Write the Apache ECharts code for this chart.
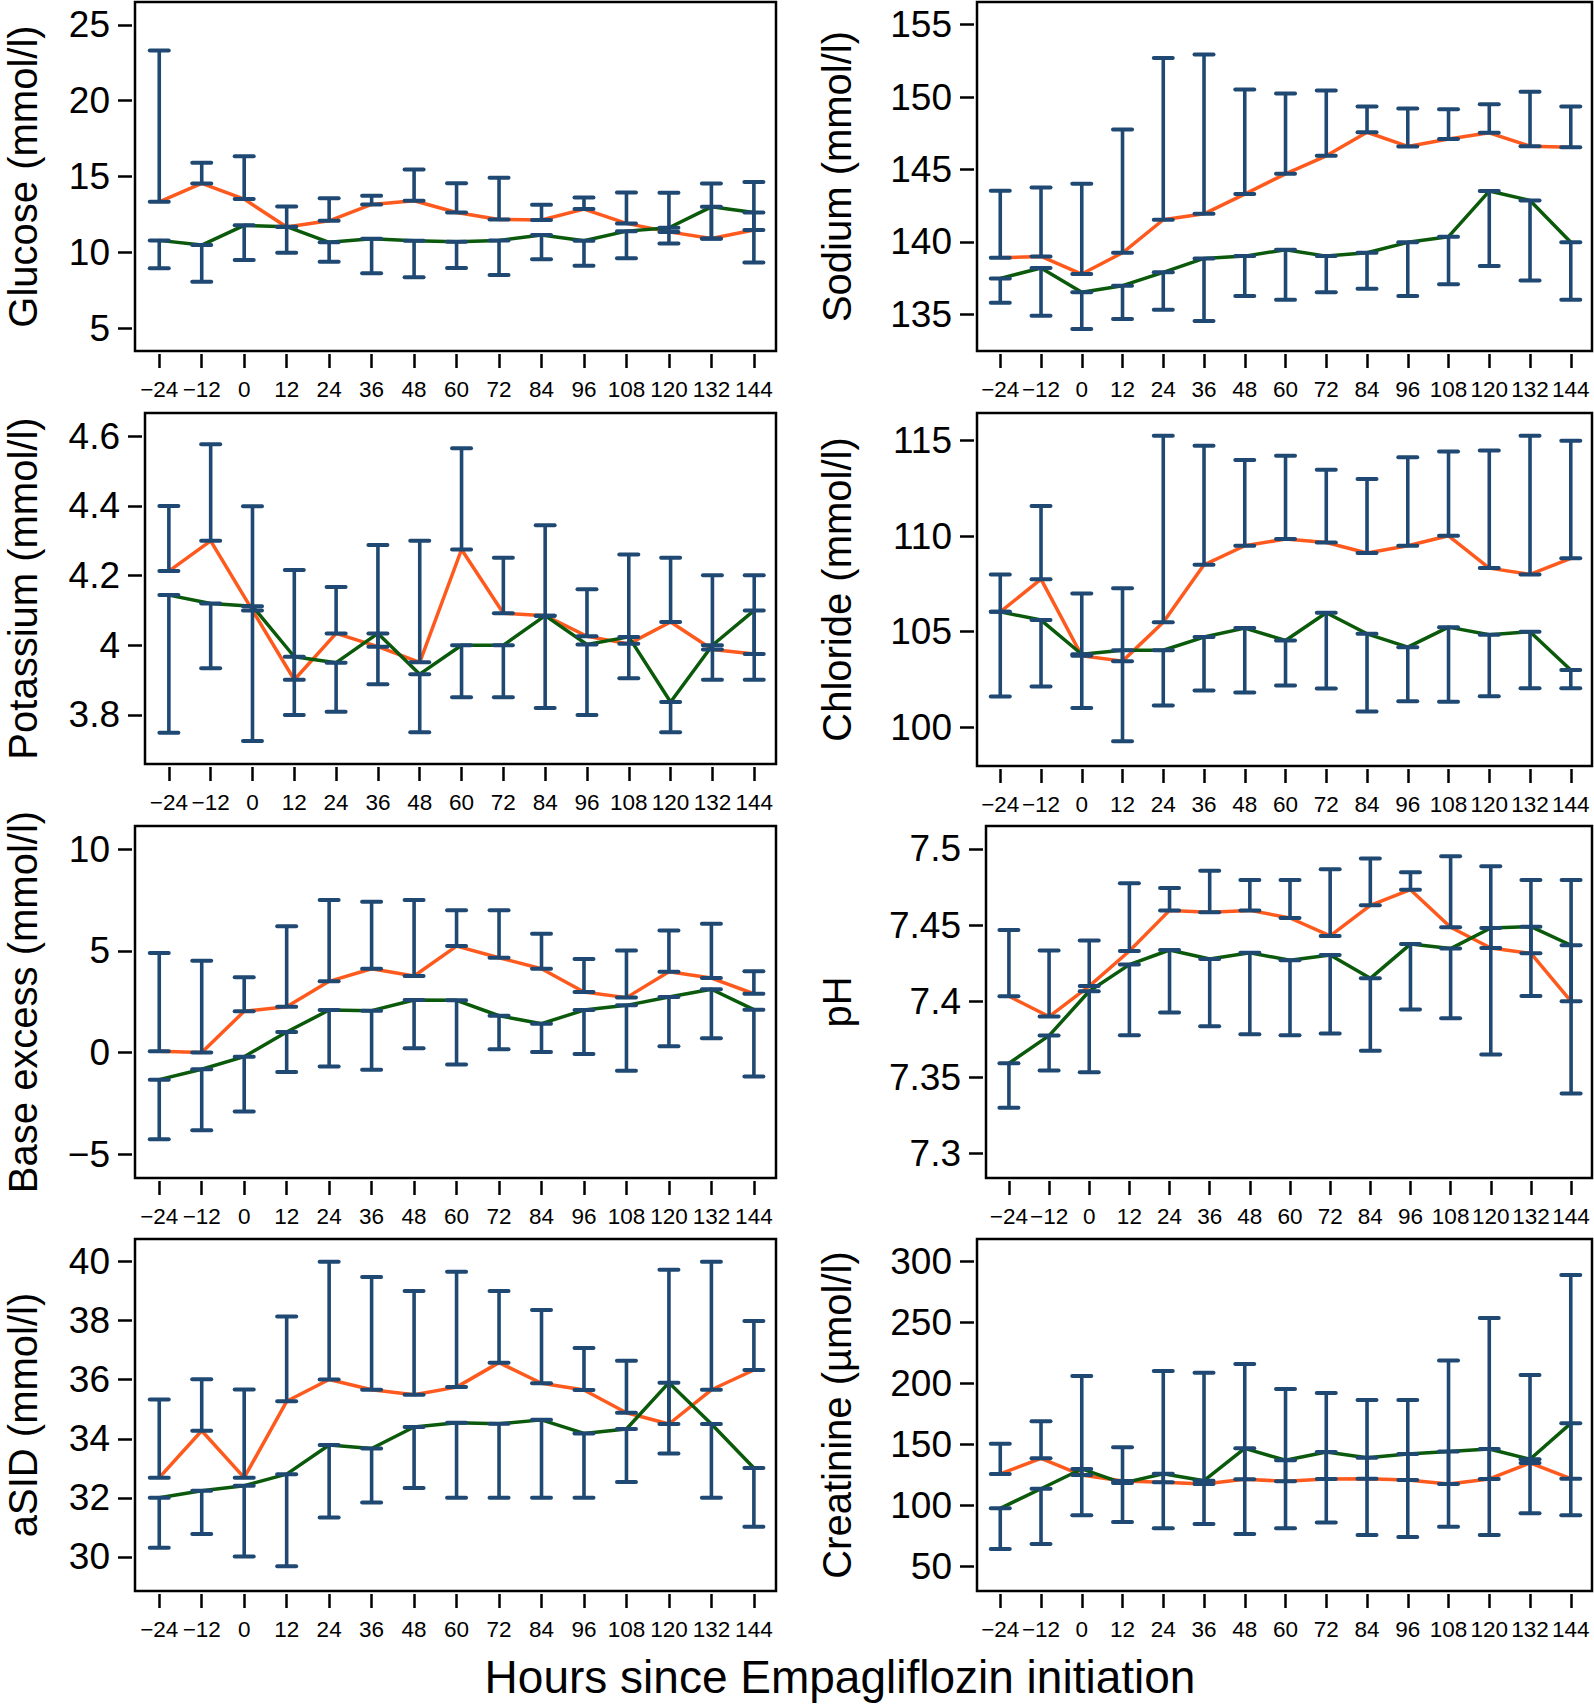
<!DOCTYPE html>
<html>
<head>
<meta charset="utf-8">
<script src="https://cdn.jsdelivr.net/npm/echarts@6/dist/echarts.min.js"></script>
<style>
html,body{margin:0;padding:0;background:#fff;}
#chart{width:1594px;height:1704px;}
</style>
</head>
<body>
<div id="chart"></div>
<script>
// ---------- DATA ----------
const hours = [-24, -12, 0, 12, 24, 36, 48, 60, 72, 84, 96, 108, 120, 132, 144];
const xTickValues = hours;

// Glucose (mmol/l)
const glucoseA      = [13.33, 14.54, 13.51, 11.67, 12.08, 13.16, 13.40, 12.63, 12.17, 12.13, 12.85, 11.91, 11.35, 10.92, 11.47];
const glucoseAUpper = [23.31, 15.90, 16.34, 13.03, 13.57, 13.73, 15.46, 14.56, 14.91, 13.14, 13.62, 13.95, 13.93, 14.54, 14.63];
const glucoseB      = [10.79, 10.48, 11.78, 11.69, 10.66, 10.90, 10.77, 10.70, 10.79, 11.14, 10.77, 11.40, 11.62, 13.00, 12.63];
const glucoseBLower = [8.95, 8.07, 9.50, 9.98, 9.39, 8.62, 8.36, 8.97, 8.51, 9.54, 9.12, 9.61, 10.59, 10.90, 9.34];
const glucoseTicks  = [5, 10, 15, 20, 25];

// Sodium (mmol/l)
const sodiumA      = [138.91, 139.00, 137.78, 139.25, 141.53, 141.94, 143.30, 144.70, 145.94, 147.57, 146.59, 147.11, 147.53, 146.61, 146.54];
const sodiumAUpper = [143.53, 143.76, 144.01, 147.76, 152.70, 152.93, 150.52, 150.24, 150.45, 149.34, 149.21, 149.16, 149.51, 150.36, 149.34];
const sodiumB      = [137.48, 138.20, 136.52, 136.98, 137.90, 138.86, 139.02, 139.46, 139.02, 139.25, 139.97, 140.36, 143.51, 142.86, 139.97];
const sodiumBLower = [135.80, 134.91, 133.99, 134.68, 135.32, 134.54, 136.26, 136.01, 136.52, 136.77, 136.26, 137.07, 138.33, 137.34, 136.01];
const sodiumTicks  = [135, 140, 145, 150, 155];

// Potassium (mmol/l)
const potassiumA      = [4.213, 4.300, 4.100, 3.901, 4.034, 3.996, 3.951, 4.275, 4.092, 4.085, 4.026, 4.004, 4.067, 3.988, 3.975];
const potassiumAUpper = [4.400, 4.577, 4.399, 4.216, 4.167, 4.288, 4.300, 4.566, 4.251, 4.345, 4.161, 4.261, 4.251, 4.201, 4.201];
const potassiumB      = [4.144, 4.120, 4.112, 3.967, 3.950, 4.034, 3.917, 4.000, 4.000, 4.085, 4.002, 4.024, 3.837, 4.000, 4.100];
const potassiumBLower = [3.749, 3.934, 3.725, 3.800, 3.809, 3.888, 3.750, 3.851, 3.851, 3.820, 3.800, 3.905, 3.750, 3.901, 3.901];
const potassiumTicks  = [3.8, 4, 4.2, 4.4, 4.6];

// Chloride (mmol/l)
const chlorideA      = [106.04, 107.75, 103.74, 103.46, 105.50, 108.50, 109.50, 109.85, 109.67, 109.12, 109.50, 110.02, 108.33, 108.00, 108.84];
const chlorideAUpper = [108.00, 111.58, 107.00, 107.28, 115.26, 114.74, 113.99, 114.21, 113.48, 112.99, 114.13, 114.44, 114.49, 115.26, 115.00];
const chlorideB      = [106.04, 105.61, 103.82, 104.03, 104.03, 104.72, 105.19, 104.54, 105.99, 104.89, 104.19, 105.24, 104.84, 105.00, 103.00];
const chlorideBLower = [101.61, 102.13, 101.00, 99.27, 101.14, 101.92, 101.82, 102.18, 102.03, 100.82, 101.36, 101.34, 101.62, 102.04, 102.04];
const chlorideTicks  = [100, 105, 110, 115];

// Base excess (mmol/l)
const baseExcessA      = [0.06, 0.00, 2.03, 2.25, 3.50, 4.12, 3.76, 5.23, 4.66, 4.12, 2.98, 2.70, 3.97, 3.66, 2.89];
const baseExcessAUpper = [4.89, 4.51, 3.70, 6.20, 7.49, 7.41, 7.49, 6.99, 6.99, 5.84, 4.60, 5.02, 6.00, 6.33, 3.99];
const baseExcessB      = [-1.33, -0.82, -0.20, 1.01, 2.09, 2.06, 2.58, 2.57, 1.81, 1.42, 2.09, 2.32, 2.73, 3.11, 2.11];
const baseExcessBLower = [-4.26, -3.82, -2.89, -0.95, -0.68, -0.84, 0.21, -0.58, 0.16, 0.03, -0.07, -0.89, 0.31, 0.70, -1.18];
const baseExcessTicks  = [-5, 0, 5, 10];

// pH
const phA      = [7.4033, 7.3900, 7.4100, 7.4330, 7.4597, 7.4584, 7.4597, 7.4547, 7.4429, 7.4630, 7.4733, 7.4486, 7.4350, 7.4315, 7.4000];
const phAUpper = [7.4468, 7.4333, 7.4400, 7.4775, 7.4744, 7.4858, 7.4797, 7.4797, 7.4867, 7.4937, 7.4847, 7.4952, 7.4886, 7.4797, 7.4797];
const phB      = [7.3593, 7.3775, 7.4066, 7.4241, 7.4337, 7.4278, 7.4319, 7.4269, 7.4304, 7.4151, 7.4376, 7.4346, 7.4481, 7.4490, 7.4368];
const phBLower = [7.3302, 7.3545, 7.3534, 7.3777, 7.3926, 7.3836, 7.3783, 7.3777, 7.3788, 7.3676, 7.3947, 7.3888, 7.3650, 7.4035, 7.3394];
const phTicks  = [7.3, 7.35, 7.4, 7.45, 7.5];

// aSID (mmol/l)
const asidA      = [32.68, 34.27, 32.68, 35.27, 36.01, 35.66, 35.49, 35.75, 36.58, 35.88, 35.65, 34.88, 34.50, 35.66, 36.33];
const asidAUpper = [35.33, 36.02, 35.67, 38.14, 40.00, 39.48, 39.01, 39.66, 39.01, 38.36, 37.08, 36.64, 39.73, 40.00, 37.99];
const asidB      = [32.00, 32.24, 32.41, 32.80, 33.79, 33.67, 34.40, 34.54, 34.51, 34.64, 34.18, 34.33, 35.90, 34.50, 33.01];
const asidBLower = [30.31, 30.77, 30.01, 29.68, 31.33, 31.84, 32.33, 32.00, 32.00, 32.00, 32.00, 32.53, 33.50, 32.00, 31.02];
const asidTicks  = [30, 32, 34, 36, 38, 40];

// Creatinine (µmol/l)
const creatinineA      = [126.0, 138.8, 125.1, 120.2, 119.1, 117.8, 121.6, 120.0, 121.9, 122.1, 121.0, 117.8, 121.9, 135.0, 122.1];
const creatinineAUpper = [150.8, 169.1, 206.3, 147.8, 210.4, 209.0, 216.1, 195.6, 192.3, 186.6, 186.6, 219.1, 253.8, 207.1, 289.1];
const creatinineB      = [97.8, 113.9, 130.1, 118.5, 126.2, 120.5, 147.0, 137.2, 144.0, 139.3, 142.3, 144.5, 146.4, 138.0, 167.5];
const creatinineBLower = [64.5, 68.6, 92.1, 86.6, 81.4, 85.0, 76.8, 81.4, 86.3, 76.0, 74.3, 82.8, 76.0, 93.7, 92.1];
const creatinineTicks  = [50, 100, 150, 200, 250, 300];

// ---------- STYLE / LAYOUT ----------
const FONT = '"Liberation Sans", Arial, Helvetica, sans-serif';
const ORANGE = '#ff5a1e';
const GREEN = '#0b5a0b';
const NAVY = '#1f4973';
const X_MIN = -30.85, X_MAX = 150.25;
const AXIS_OFFSET = 3;
const TITLE_BASE_X = [37, 851];

const panels = [
  {name: 'Glucose (mmol/l)',    a: glucoseA,    aUp: glucoseAUpper,    b: glucoseB,    bLo: glucoseBLower,    ticks: glucoseTicks,    min: 3.5,   max: 26.5,   box: [135, 2, 641, 349],   col: 0},
  {name: 'Sodium (mmol/l)',     a: sodiumA,     aUp: sodiumAUpper,     b: sodiumB,     bLo: sodiumBLower,     ticks: sodiumTicks,     min: 132.47, max: 156.56, box: [977, 2, 615, 349],  col: 1},
  {name: 'Potassium (mmol/l)',  a: potassiumA,  aUp: potassiumAUpper,  b: potassiumB,  bLo: potassiumBLower,  ticks: potassiumTicks,  min: 3.659, max: 4.667,  box: [145, 413, 631, 351], col: 0},
  {name: 'Chloride (mmol/l)',   a: chlorideA,   aUp: chlorideAUpper,   b: chlorideB,   bLo: chlorideBLower,   ticks: chlorideTicks,   min: 97.97, max: 116.45, box: [977, 413, 615, 353], col: 1},
  {name: 'Base excess (mmol/l)',a: baseExcessA, aUp: baseExcessAUpper, b: baseExcessB, bLo: baseExcessBLower, ticks: baseExcessTicks, min: -6.16, max: 11.13,  box: [135, 826, 641, 352], col: 0},
  {name: 'pH',                  a: phA,         aUp: phAUpper,         b: phB,         bLo: phBLower,         ticks: phTicks,         min: 7.284, max: 7.5151, box: [986, 826, 606, 352], col: 1},
  {name: 'aSID (mmol/l)',       a: asidA,       aUp: asidAUpper,       b: asidB,       bLo: asidBLower,       ticks: asidTicks,       min: 28.84, max: 40.77,  box: [135, 1239, 641, 352], col: 0},
  {name: 'Creatinine (µmol/l)', a: creatinineA, aUp: creatinineAUpper, b: creatinineB, bLo: creatinineBLower, ticks: creatinineTicks, min: 30.05, max: 318.6,  box: [977, 1239, 615, 352], col: 1}
];

function fmt(v) {
  const r = Math.round(v * 10000) / 10000;
  return r < 0 ? '\u2212' + String(-r) : String(r);
}

function errRender(params, api) {
  const x = api.value(0), m = api.value(1), e = api.value(2);
  const p1 = api.coord([x, m]);
  const p2 = api.coord([x, e]);
  const hw = 9.5;
  const st = {stroke: NAVY, lineWidth: 4, lineCap: 'round', fill: null};
  return {
    type: 'group',
    children: [
      {type: 'line', shape: {x1: p1[0], y1: p1[1], x2: p2[0], y2: p2[1]}, style: Object.assign({}, st, {lineWidth: 3.6, lineCap: 'butt'})},
      {type: 'line', shape: {x1: p1[0] - hw, y1: p1[1], x2: p1[0] + hw, y2: p1[1]}, style: st},
      {type: 'line', shape: {x1: p2[0] - hw, y1: p2[1], x2: p2[0] + hw, y2: p2[1]}, style: st}
    ]
  };
}

const grids = [], xAxes = [], yAxes = [], series = [];
panels.forEach((p, i) => {
  const [l, t, w, h] = p.box;
  grids.push({left: l, top: t, width: w, height: h, show: true, borderColor: '#000', borderWidth: 2.5,
    backgroundColor: 'transparent', containLabel: false, outerBoundsMode: 'none'});
  xAxes.push({
    type: 'value', gridIndex: i, min: X_MIN, max: X_MAX, offset: AXIS_OFFSET, position: 'bottom',
    axisLine: {show: false, onZero: false}, splitLine: {show: false},
    axisTick: {show: true, inside: false, length: 14, lineStyle: {color: '#000', width: 2.5}, customValues: xTickValues},
    axisLabel: {show: true, margin: 24, fontSize: 22.5, color: '#000', fontFamily: FONT, customValues: xTickValues, formatter: fmt, hideOverlap: false}
  });
  const axisX = l - AXIS_OFFSET;
  yAxes.push({
    type: 'value', gridIndex: i, min: p.min, max: p.max, offset: AXIS_OFFSET, position: 'left',
    name: p.name, nameLocation: 'middle', nameRotate: 90, nameGap: axisX - TITLE_BASE_X[p.col] - 6,
    nameMoveOverlap: false,
    nameTextStyle: {fontSize: 40, color: '#000', fontFamily: FONT},
    axisLine: {show: false, onZero: false}, splitLine: {show: false},
    axisTick: {show: true, inside: false, length: 14, lineStyle: {color: '#000', width: 2.5}, customValues: p.ticks},
    axisLabel: {show: true, margin: 22, fontSize: 37, color: '#000', fontFamily: FONT, customValues: p.ticks, formatter: fmt, hideOverlap: false}
  });
  series.push({
    type: 'line', xAxisIndex: i, yAxisIndex: i, data: hours.map((hh, k) => [hh, p.a[k]]),
    showSymbol: false, symbol: 'none', lineStyle: {color: ORANGE, width: 3.5}, z: 2, animation: false
  });
  series.push({
    type: 'line', xAxisIndex: i, yAxisIndex: i, data: hours.map((hh, k) => [hh, p.b[k]]),
    showSymbol: false, symbol: 'none', lineStyle: {color: GREEN, width: 3.5}, z: 3, animation: false
  });
  series.push({
    type: 'custom', xAxisIndex: i, yAxisIndex: i, renderItem: errRender, z: 4, animation: false,
    encode: {x: 0, y: [1, 2]}, data: hours.map((hh, k) => [hh, p.a[k], p.aUp[k]])
  });
  series.push({
    type: 'custom', xAxisIndex: i, yAxisIndex: i, renderItem: errRender, z: 4, animation: false,
    encode: {x: 0, y: [1, 2]}, data: hours.map((hh, k) => [hh, p.b[k], p.bLo[k]])
  });
});

const chart = echarts.init(document.getElementById('chart'), null, {renderer: 'svg', width: 1594, height: 1704});
chart.setOption({
  animation: false,
  backgroundColor: '#fff',
  grid: grids,
  xAxis: xAxes,
  yAxis: yAxes,
  series: series,
  graphic: [{
    type: 'text', x: 840, y: 1677,
    style: {text: 'Hours since Empagliflozin initiation', fontSize: 46, fontFamily: FONT, fill: '#000', textAlign: 'center', textVerticalAlign: 'middle', verticalAlign: 'middle'}
  }]
});
</script>
</body>
</html>
